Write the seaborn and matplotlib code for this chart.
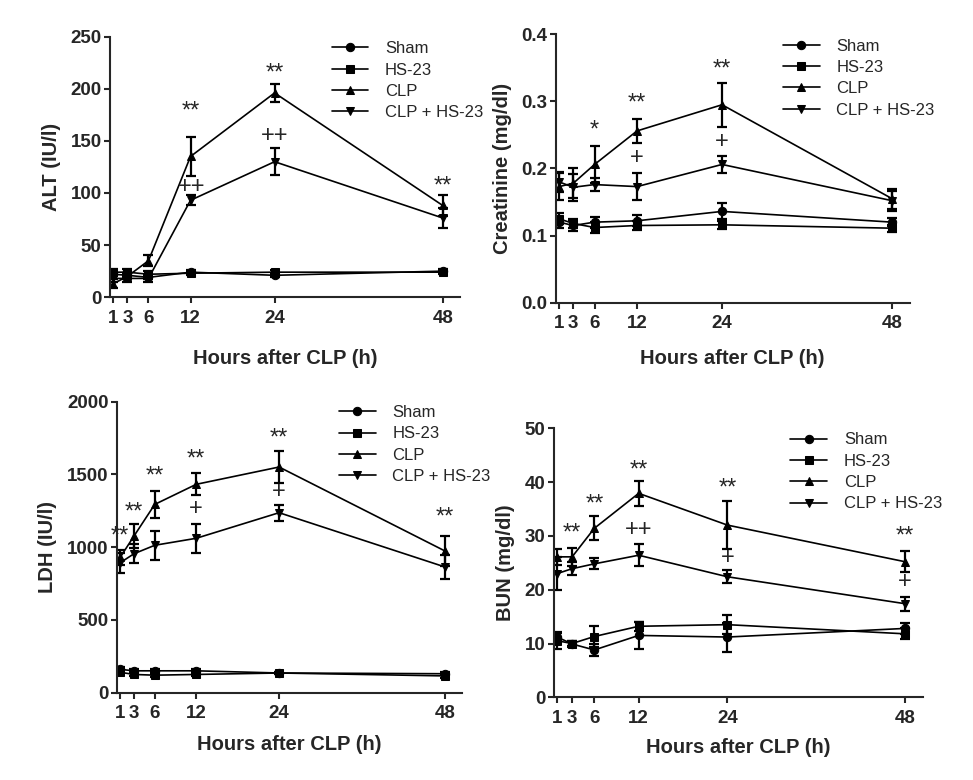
import pandas as pd
import seaborn as sns
import matplotlib.pyplot as plt

# Data
hours = [1, 3, 6, 12, 24, 48]
groups = ['Sham', 'HS-23', 'CLP', 'CLP + HS-23']
markers = {'Sham': 'o', 'HS-23': 's', 'CLP': '^', 'CLP + HS-23': 'v'}

# ALT (IU/l)
alt_sham = [22, 21, 19, 24, 21, 25]
alt_hs23 = [24, 24, 22, 23, 24, 24]
alt_clp = [13, 20, 35, 135, 196, 88]
alt_clp_hs = [18, 18, 18, 93, 130, 76]
alt_err_sham = [2, 2, 2, 2, 2, 2]
alt_err_hs23 = [3, 3, 3, 2, 2, 2]
alt_err_clp = [4, 3, 5, 19, 9, 10]
alt_err_clp_hs = [3, 3, 3, 5, 13, 10]

# Creatinine (mg/dl)
cre_sham = [0.120, 0.115, 0.120, 0.122, 0.136, 0.120]
cre_hs23 = [0.125, 0.118, 0.112, 0.115, 0.116, 0.111]
cre_clp = [0.173, 0.178, 0.206, 0.256, 0.295, 0.155]
cre_clp_hs = [0.180, 0.172, 0.176, 0.173, 0.206, 0.152]
cre_err_sham = [0.008, 0.008, 0.008, 0.008, 0.012, 0.006]
cre_err_hs23 = [0.008, 0.006, 0.008, 0.006, 0.006, 0.005]
cre_err_clp = [0.020, 0.022, 0.027, 0.018, 0.033, 0.015]
cre_err_clp_hs = [0.015, 0.020, 0.010, 0.020, 0.012, 0.015]

# LDH (IU/l)
ldh_sham = [160, 150, 150, 150, 135, 130]
ldh_hs23 = [140, 125, 120, 125, 135, 115]
ldh_clp = [930, 1077, 1294, 1432, 1551, 974]
ldh_clp_hs = [893, 955, 1013, 1061, 1237, 864]
ldh_err_sham = [15, 10, 10, 10, 10, 10]
ldh_err_hs23 = [15, 10, 10, 10, 10, 15]
ldh_err_clp = [50, 80, 95, 75, 110, 105]
ldh_err_clp_hs = [70, 65, 100, 100, 55, 80]

# BUN (mg/dl)
bun_sham = [11.2, 9.9, 8.8, 11.5, 11.2, 12.8]
bun_hs23 = [10.5, 10.0, 11.3, 13.2, 13.5, 11.8]
bun_clp = [26.1, 26.1, 31.4, 37.9, 32.0, 25.2]
bun_clp_hs = [23.0, 23.9, 24.8, 26.4, 22.4, 17.4]
bun_err_sham = [1.0, 0.5, 1.2, 2.5, 2.7, 1.0]
bun_err_hs23 = [1.5, 0.5, 2.0, 0.8, 1.8, 1.0]
bun_err_clp = [1.5, 1.7, 2.2, 2.3, 4.5, 1.9]
bun_err_clp_hs = [3.0, 1.2, 1.0, 2.0, 1.2, 1.3]

# significance marks: (x, y, text)
alt_marks = [(12, 178, '**'), (24, 215, '**'), (48, 106, '**'),
             (12.2, 106, '++'), (24, 155, '++')]
cre_marks = [(6, 0.257, '*'), (12, 0.297, '**'), (24, 0.347, '**'),
             (12, 0.216, '+'), (24, 0.239, '+')]
ldh_marks = [(1, 1075, '**'), (3, 1237, '**'), (6, 1489, '**'), (12, 1604, '**'),
             (24, 1748, '**'), (48, 1203, '**'), (12, 1260, '+'), (24, 1381, '+')]
bun_marks = [(3, 30.4, '**'), (6, 35.8, '**'), (12, 42.2, '**'), (24, 38.8, '**'),
             (48, 29.9, '**'), (12, 31, '++'), (24, 25.9, '+'), (48, 21.4, '+')]

sns.set_style('ticks')
plt.rcParams['font.family'] = ['Liberation Sans', 'DejaVu Sans']

fig = plt.figure(figsize=(9.73, 7.8), dpi=100)


def draw(rect, means, errs, ylim, yticks, ylabel, marks, leg_x, xpad, fmt=None):
    ax = fig.add_axes(rect)
    rows = []
    for g, vals in zip(groups, means):
        for h, v in zip(hours, vals):
            rows.append({'hours': h, 'value': v, 'group': g})
    df = pd.DataFrame(rows)
    sns.lineplot(data=df, x='hours', y='value', style='group', style_order=groups,
                 markers=markers, dashes=False, color='black', markersize=6,
                 markeredgecolor='black', linewidth=1.2, ax=ax)
    for vals, e in zip(means, errs):
        ax.errorbar(hours, vals, yerr=e, fmt='none', ecolor='black',
                    elinewidth=1.6, capsize=3.5, capthick=1.6)
    for x, y, t in marks:
        ax.text(x, y, t, ha='center', va='center', fontsize=17)

    ax.set_xlim(0.5, 50.5)
    ax.set_ylim(*ylim)
    ax.set_xticks(hours)
    ax.set_yticks(yticks)
    if fmt:
        ax.yaxis.set_major_formatter(plt.FormatStrFormatter(fmt))
    ax.tick_params(labelsize=13.5, width=1.5, length=4, direction='out', pad=2)
    ax.tick_params(axis='x', pad=5)
    for lab in ax.get_xticklabels() + ax.get_yticklabels():
        lab.set_fontweight('bold')
    ax.set_xlabel('Hours after CLP (h)', fontsize=14.5, fontweight='bold', labelpad=xpad)
    ax.set_ylabel(ylabel, fontsize=14.5, fontweight='bold', labelpad=7)
    for s in ['left', 'bottom']:
        ax.spines[s].set_linewidth(1.5)
    sns.despine(ax=ax)

    handles, labels = ax.get_legend_handles_labels()
    keep = [(h, l) for h, l in zip(handles, labels) if l in groups]
    ax.legend([k[0] for k in keep], [k[1] for k in keep], loc='upper left',
              bbox_to_anchor=(leg_x, 1.04), frameon=False, fontsize=12,
              handlelength=2.2, labelspacing=0.38, handletextpad=1.0)
    return ax


draw([0.113, 0.619, 0.360, 0.334],
     [alt_sham, alt_hs23, alt_clp, alt_clp_hs],
     [alt_err_sham, alt_err_hs23, alt_err_clp, alt_err_clp_hs],
     (0, 250), [0, 50, 100, 150, 200, 250], 'ALT (IU/l)', alt_marks, 0.59, 16)

draw([0.571, 0.612, 0.364, 0.344],
     [cre_sham, cre_hs23, cre_clp, cre_clp_hs],
     [cre_err_sham, cre_err_hs23, cre_err_clp, cre_err_clp_hs],
     (0, 0.4), [0.0, 0.1, 0.2, 0.3, 0.4], 'Creatinine (mg/dl)', cre_marks, 0.6, 12, '%.1f')

draw([0.120, 0.112, 0.355, 0.373],
     [ldh_sham, ldh_hs23, ldh_clp, ldh_clp_hs],
     [ldh_err_sham, ldh_err_hs23, ldh_err_clp, ldh_err_clp_hs],
     (0, 2000), [0, 500, 1000, 1500, 2000], 'LDH (IU/l)', ldh_marks, 0.6, 9)

draw([0.569, 0.106, 0.380, 0.345],
     [bun_sham, bun_hs23, bun_clp, bun_clp_hs],
     [bun_err_sham, bun_err_hs23, bun_err_clp, bun_err_clp_hs],
     (0, 50), [0, 10, 20, 30, 40, 50], 'BUN (mg/dl)', bun_marks, 0.6, 8)

plt.savefig('out.png', dpi=100)
